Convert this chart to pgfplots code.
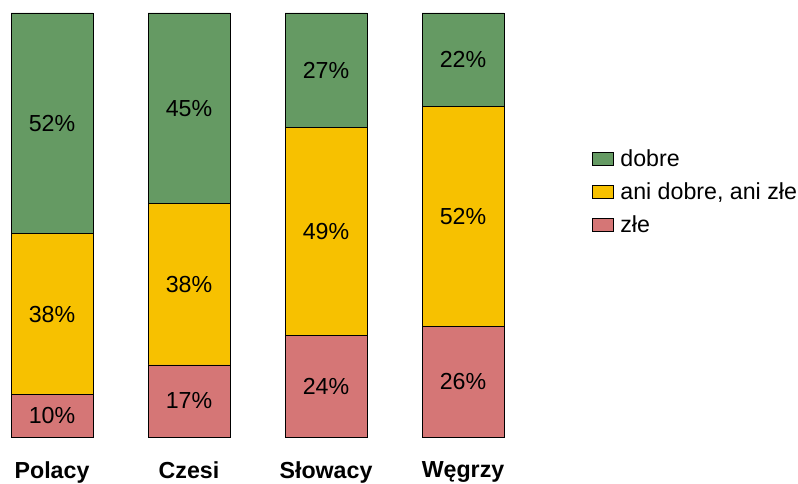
\documentclass[border=0pt]{standalone}
\usepackage{pgfplots}
\pgfplotsset{compat=1.18}
\usepackage{fontspec}
\setmainfont{Liberation Sans}
\definecolor{cgreen}{HTML}{659A63}
\definecolor{cyellow}{HTML}{F7C100}
\definecolor{cred}{HTML}{D57676}

\newcommand{\bigfont}{\fontsize{17.4}{20.5}\selectfont}

\pgfplotsset{
  base/.style={
    width=390pt, height=318pt, scale only axis,
    xmin=-0.3796, xmax=3.416, ymin=0, ymax=100,
    axis line style={draw=none}, tick style={draw=none},
    ytick=\empty, clip=false,
  }
}

\begin{document}
\begin{tikzpicture}
\path[use as bounding box] (0,-35.25pt) rectangle (598.5pt,327.75pt);
\begin{axis}[
  base,
  ybar stacked, bar width=61.5pt,
  xtick={0,1,2,3},
  xticklabels={Polacy,Czesi,Słowacy,Węgrzy},
  xticklabel style={font=\bigfont\bfseries, yshift=-15pt},
  reverse legend,
  legend style={draw=none, font=\bigfont, at={(1.13,0.578)}, anchor=west,
    row sep=6.5pt, cells={anchor=west}},
  legend image code/.code={\draw[#1, line width=0.6pt] (0pt,-4.9pt) rectangle (15.75pt,4.9pt);
    \path (18.75pt,0pt);},
  every axis plot/.append style={draw=black, line width=0.6pt},
]
\addplot[fill=cred] coordinates {(0,10) (1,17) (2,24) (3,26)};
\addlegendentry{złe}
\addplot[fill=cyellow] coordinates {(0,38) (1,38) (2,49) (3,52)};
\addlegendentry{ani dobre, ani złe}
\addplot[fill=cgreen] coordinates {(0,52) (1,45) (2,27) (3,22)};
\addlegendentry{dobre}
\end{axis}
\begin{axis}[base, xtick=\empty]
\addplot[draw=none, mark=none, nodes near coords, point meta=explicit symbolic,
  every node near coord/.style={anchor=center, font=\bigfont}]
  coordinates {
  (0,5)[10\%] (0,29)[38\%] (0,74)[52\%]
  (1,8.5)[17\%] (1,36)[38\%] (1,77.5)[45\%]
  (2,12)[24\%] (2,48.5)[49\%] (2,86.5)[27\%]
  (3,13)[26\%] (3,52)[52\%] (3,89)[22\%]
  };
\end{axis}
\end{tikzpicture}
\end{document}
